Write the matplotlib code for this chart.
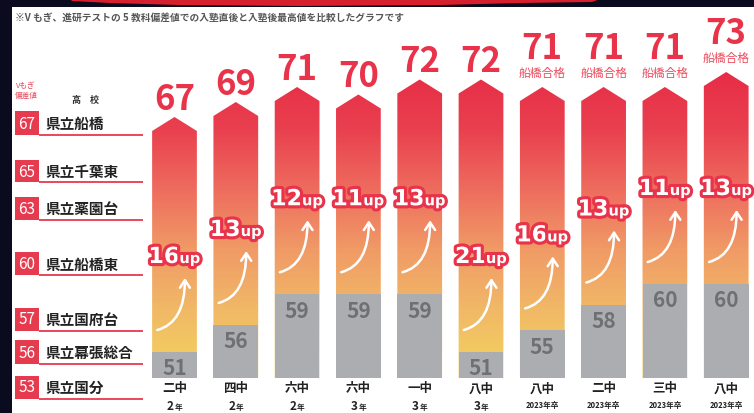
import numpy as np
import matplotlib.pyplot as plt
import matplotlib.patheffects as pe
from matplotlib.colors import LinearSegmentedColormap
from matplotlib.patches import Polygon, Rectangle, FancyArrowPatch
from matplotlib.path import Path

plt.rcParams['font.family'] = ['Noto Sans CJK JP', 'DejaVu Sans']

# data
schools = ['二中', '四中', '六中', '六中', '一中', '八中', '八中', '二中', '三中', '八中']
grades = ['2年', '2年', '2年', '3年', '3年', '3年', '2023年卒', '2023年卒', '2023年卒', '2023年卒']
before = [51, 56, 59, 59, 59, 51, 55, 58, 60, 60]
after = [67, 69, 71, 70, 72, 72, 71, 71, 71, 73]
passed = [False, False, False, False, False, False, True, True, True, True]
rank_values = [67, 65, 63, 60, 57, 56, 53]
rank_names = ['県立船橋', '県立千葉東', '県立薬園台', '県立船橋東', '県立国府台', '県立幕張総合', '県立国分']
caption = '※V もぎ、進研テストの 5 教科偏差値での入塾直後と入塾後最高値を比較したグラフです'

RED = '#e8334a'
W, H = 754, 414


def make_scale(vals, px):
    # piecewise value -> pixel scale (the infographic is not drawn to a linear scale)
    vals = np.asarray(vals, float)
    t = -np.asarray(px, float)
    fwd = lambda v: np.interp(v, vals, t)
    inv = lambda y: np.interp(y, t, vals)
    return fwd, inv


fwd, inv = make_scale([30, 46, 51, 56, 60, 67, 73, 90], [500, 379, 353, 326, 285, 132, 87, -40])
rfwd, rinv = make_scale([40, 53, 56, 57, 65, 67, 80], [530, 388, 353, 320, 172, 124, -190])

fig = plt.figure(figsize=(W / 100, H / 100), dpi=100, facecolor='#0b0b1f')

# background / decorations in pixel coords
bg = fig.add_axes([0, 0, 1, 1], zorder=0)
bg.axis('off')
bg.add_patch(Rectangle((12, 8), W - 12, H - 8, fc='white', ec='none'))
bg.add_patch(Polygon([(70, 0), (600, 0), (592, 3), (520, 4), (440, 6), (300, 7),
                      (180, 6), (110, 4), (72, 2)], closed=True, fc='#d6202e', ec='none'))
bg.text(15, 18, caption, fontsize=7, color='#555555', va='center', ha='left', weight='bold')
bg.text(26, 91, 'Vもぎ\n偏差値', fontsize=5.5, color='#e8485a', ha='center', va='center', linespacing=1.2)
bg.text(86, 100, '高　校', fontsize=6.5, color='#333333', ha='center', va='center', weight='bold')

stops_px = [0, 70, 130, 190, 250, 310, 370, H]
stops_c = ['#e72a45', '#e72c46', '#e9404f', '#ee6c5e', '#f09a66', '#f1b866', '#f3d060', '#f3d462']
cmap = LinearSegmentedColormap.from_list('bar', list(zip(np.array(stops_px) / H, stops_c)))
grad = (np.arange(H) / (H - 1))[:, None]
im = bg.imshow(grad, cmap=cmap, extent=(0, W, H, 0), aspect='auto', zorder=1, vmin=0, vmax=1)
bg.set_xlim(0, W)
bg.set_ylim(H, 0)

# main chart
ax = fig.add_axes([0, 0, 1, 1], zorder=1)
ax.set_yscale('function', functions=(fwd, inv))
pitch = 61.3
ax.set_xlim(-174.5 / pitch, (W - 174.5) / pitch)
ax.set_ylim(inv(-H), inv(0))
ax.axis('off')
ax.patch.set_alpha(0)

x = np.arange(len(schools))
w = 0.73
base = 46

paths = []
for i, (b, a) in enumerate(zip(before, after)):
    tip = inv(fwd(a) + 14)
    verts = [(i - w / 2, base), (i - w / 2, a), (i, tip), (i + w / 2, a),
             (i + w / 2, base), (i - w / 2, base)]
    paths.append(Path(verts, closed=True))
im.set_clip_path(Path.make_compound_path(*paths), ax.transData)

ax.bar(x, np.array(before) - base, bottom=base, width=w, color='#abadb0', zorder=3)

fx = [pe.Stroke(linewidth=4.5, foreground=RED), pe.Normal()]
for i, (b, a) in enumerate(zip(before, after)):
    ax.text(i, inv(fwd(b) - 16), str(b), ha='center', va='center', fontsize=15,
            weight='bold', color='#6f7074', zorder=4)
    tip_t = fwd(a) + 14
    if passed[i]:
        ax.text(i, inv(tip_t + 8), '船橋合格', ha='center', va='bottom', fontsize=8.5,
                color='#ec4a5c', zorder=4)
        ax.text(i, inv(tip_t + 29), str(a), ha='center', va='baseline', fontsize=25,
                weight='bold', color=RED, zorder=4)
    else:
        ax.text(i, inv(tip_t + 8), str(a), ha='center', va='baseline', fontsize=25,
                weight='bold', color=RED, zorder=4)

    # "Nup" sticker and arrow
    yb = inv(fwd(b) + 97 - 8)
    ax.text(i + 0.08, yb, str(a - b), ha='right', va='baseline', fontsize=16, weight='bold',
            family='DejaVu Sans', color='white', path_effects=fx, zorder=6)
    ax.text(i + 0.08, yb, 'up', ha='left', va='baseline', fontsize=10.5, weight='bold',
            family='DejaVu Sans', color='white', path_effects=fx, zorder=6)
    arr = FancyArrowPatch((i - 0.28, inv(fwd(b) + 22)), (i + 0.17, inv(fwd(b) + 74)),
                          arrowstyle='->,head_length=0.45,head_width=0.3', mutation_scale=12,
                          connectionstyle='angle3,angleA=15,angleB=90', color='white', lw=1.8,
                          shrinkA=0, shrinkB=0, zorder=5)
    ax.add_patch(arr)

# category labels under bars
trans = ax.get_xaxis_transform()
for i, (s, g) in enumerate(zip(schools, grades)):
    ax.text(i, 1 - 389 / H, s, transform=trans, ha='center', va='center', fontsize=9,
            weight='bold', color='#222222')
    if g.endswith('卒'):
        ax.text(i, 1 - 405.5 / H, g, transform=trans, ha='center', va='center', fontsize=5.5,
                weight='bold', color='#222222')
    else:
        ax.text(i - 0.01, 1 - 410 / H, g[:-1], transform=trans, ha='right', va='baseline',
                fontsize=8.5, weight='bold', color='#222222')
        ax.text(i, 1 - 410 / H, g[-1], transform=trans, ha='left', va='baseline',
                fontsize=5.5, weight='bold', color='#222222')

# school ranking column
ax2 = fig.add_axes([0, 0, 1, 1], zorder=2)
ax2.set_yscale('function', functions=(rfwd, rinv))
ax2.set_xlim(0, W)
ax2.set_ylim(rinv(-H), rinv(0))
ax2.axis('off')
ax2.patch.set_alpha(0)
for v, name in zip(rank_values, rank_names):
    top = rinv(rfwd(v) + 11.5)
    bot = rinv(rfwd(v) - 11.5)
    ax2.add_patch(Rectangle((15, bot), 24, top - bot, fc='#e63a4e', ec='none'))
    ax2.plot([39, 143], [bot, bot], color='#e8485a', lw=1.4, solid_capstyle='butt')
    ax2.text(27, v, str(v), ha='center', va='center', fontsize=11, color='white')
    ax2.text(45, v, name, ha='left', va='center', fontsize=10.5, weight='bold', color='#222222')

fig.savefig('out.png', dpi=100, facecolor=fig.get_facecolor())
